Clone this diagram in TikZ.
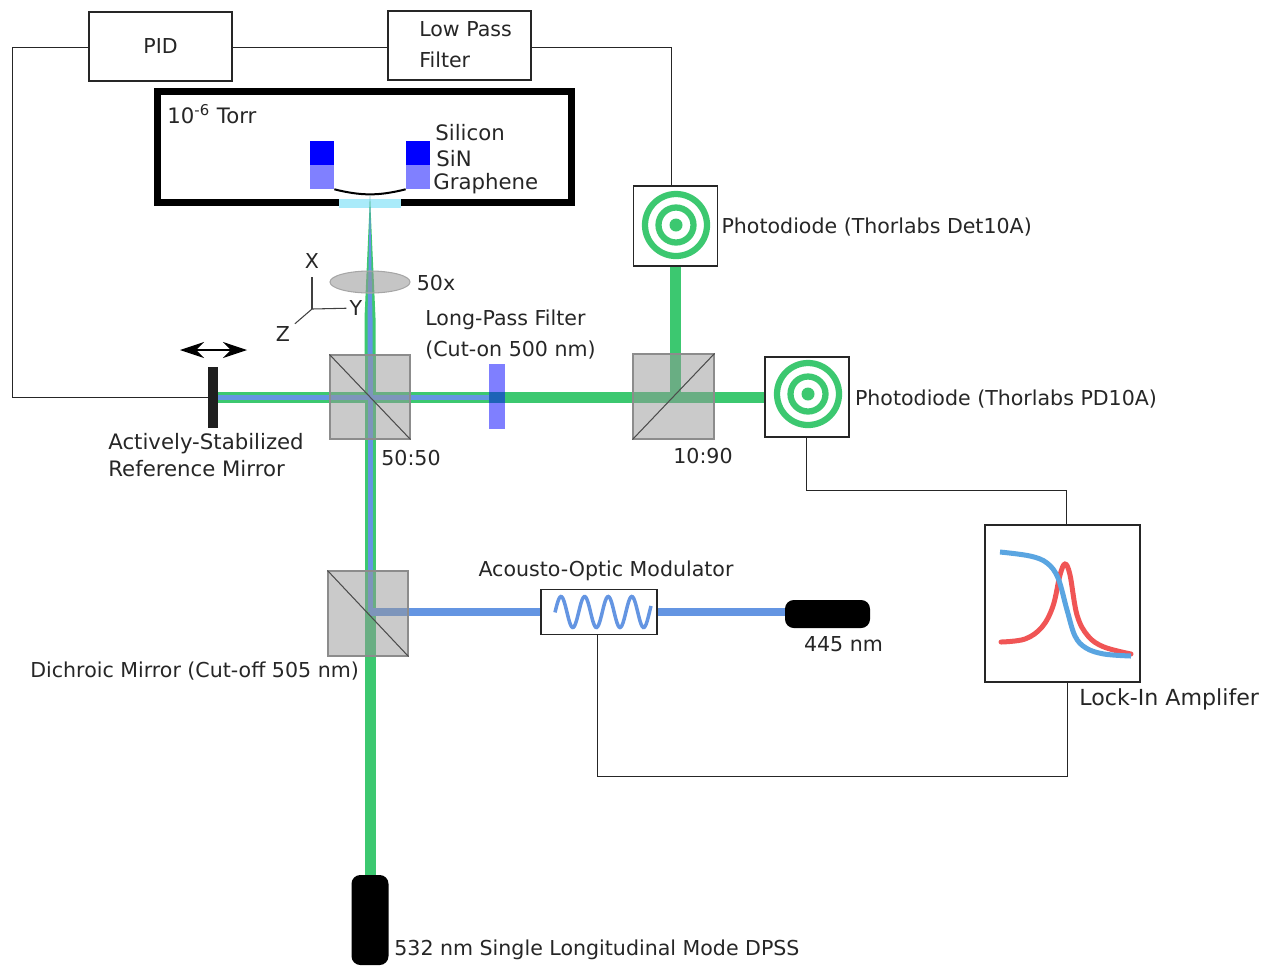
\documentclass[tikz,border=0pt]{standalone}
\usepackage{fontspec}
\setmainfont{DejaVu Sans}
\definecolor{BeamGreen}{RGB}{60,200,112}
\definecolor{BeamBlue}{RGB}{100,149,226}
\definecolor{CubeGray}{RGB}{150,150,150}
\definecolor{SiBlue}{RGB}{0,0,255}
\definecolor{SiNBlue}{RGB}{128,128,255}
\definecolor{WindowBlue}{RGB}{170,235,250}
\definecolor{CurveRed}{RGB}{240,85,85}
\definecolor{CurveBlue}{RGB}{90,165,225}
\usetikzlibrary{
  shapes.geometric,
  arrows.meta, positioning, calc,
  backgrounds
}

\begin{document}
\begin{tikzpicture}[
        x=0.02cm,y=-0.02cm,
        node distance=0.04cm,
        every node/.style={font=\fontsize{11.7}{14.5}\selectfont,text=black!85,inner sep=0pt},
        wide/.style={font=\fontsize{12.1}{14.5}\selectfont},
        box/.style={rectangle,draw=black!85,thick,fill=white,minimum width=2.86cm,minimum height=1.38cm},
        cube/.style={rectangle,draw=black!45,semithick,fill=CubeGray,fill opacity=0.5,minimum width=1.6cm,minimum height=1.68cm},
        pd/.style={rectangle,draw=black!85,thick,fill=white,minimum width=1.68cm,minimum height=1.6cm},
        block/.style={rectangle,minimum width=0.48cm,minimum height=0.47cm},
        laser/.style={rectangle,rounded corners=5pt,fill=black},
        wire/.style={draw=black!85,line width=0.45pt},
        green/.style={draw=BeamGreen,line width=0.22cm},
        blue/.style={draw=BeamBlue,line width=0.1cm},
        ring/.style={draw=BeamGreen,line width=0.125cm}
      ]
        \useasboundingbox (0,0) rectangle (1270,965);

        % controllers
        \node[box] (pid) at (160.5,46.5) {\raisebox{0.04cm}{PID}};
        \node[box,align=left] (lowpass) at (459.5,45.5) {\hspace*{0.24cm}\raisebox{0.04cm}{Low Pass}\\[0.11cm]\hspace*{0.24cm}\raisebox{0.04cm}{Filter}};

        % vacuum chamber
        \node[rectangle,draw=black,line width=0.14cm,minimum width=8.3cm,minimum height=2.22cm] (chamber) at (364.5,147) {};
        \node[anchor=west,wide] (torr) at (167,114) {10\textsuperscript{-6} Torr};
        \node[rectangle,fill=WindowBlue,minimum width=1.24cm,minimum height=0.18cm] (window) at (370,203.5) {};
        \node[block,fill=SiBlue] (siL) at (322,153) {};
        \node[block,fill=SiNBlue,below=0cm of siL] (sinL) {};
        \node[block,fill=SiBlue] (siR) at (418,153) {};
        \node[block,fill=SiNBlue,below=0cm of siR] (sinR) {};
        \draw[black,line width=0.04cm] (sinL.south east) to[bend right=14] (sinR.south west);
        \node[anchor=west,wide] (silicon) at (435,133) {Silicon};
        \node[anchor=west,wide] (sin) at (436,159) {SiN};
        \node[anchor=west,wide] (graphene) at (433,184) {Graphene};

        % focused beams, over the window
        \coordinate (focus) at (370,196);
        \coordinate (beamWide) at (370,318);
        \coordinate (beamTop) at (370,356);
        \fill[BeamGreen] (focus) -- ($(beamWide)+(-5.5,0)$) -- ($(beamTop)+(-5.5,0)$) -- ($(beamTop)+(5.5,0)$) -- ($(beamWide)+(5.5,0)$) -- cycle;
        \fill[BeamBlue] (focus) -- ($(beamWide)+(-2.5,0)$) -- ($(beamTop)+(-2.5,0)$) -- ($(beamTop)+(2.5,0)$) -- ($(beamWide)+(2.5,0)$) -- cycle;

        % optics
        \node[ellipse,draw=black!35,semithick,fill=CubeGray,fill opacity=0.55,minimum width=1.6cm,minimum height=0.44cm] (lens) at (370,282) {};
        \node[right=0.12cm of lens,yshift=-0.02cm] (lenslabel) {50x};
        \node[cube] (bs) at (370,397) {};
        \node[cube,minimum height=1.7cm] (dichroic) at (368,613.5) {};
        \node[cube,minimum width=1.62cm,minimum height=1.7cm] (tap) at (673.5,396.5) {};
        \draw[black!70,semithick] (bs.north west) -- (bs.south east);
        \draw[black!70,semithick] (dichroic.north west) -- (dichroic.south east);
        \draw[black!70,semithick] (tap.south west) -- (tap.north east);
        \node[rectangle,fill=black!88,minimum width=0.2cm,minimum height=1.22cm] (mirror) at (213,397) {};
        \node[rectangle,fill=SiBlue,minimum width=0.32cm,minimum height=1.3cm,fill opacity=0.5] (filter) at (497,396.5) {};
        \node (filterlabel) [align=left,anchor=west] at (425,335) {Long-Pass Filter\\[0.11cm](Cut-on 500 nm)};

        % labels of the optics
        \node[anchor=west] (bslabel) at (381,458) {50:50};
        \node[anchor=west] (taplabel) at (673,456) {10:90};
        \node[align=left,anchor=west,wide] (mirrorlabel) at (108,455.5) {Actively-Stabilized\\[0.03cm]Reference Mirror};
        \node[anchor=west] (dichroiclabel) at (30,671) {Dichroic Mirror (Cut-off 505 nm)};

        % stage motion
        \coordinate (moveL) at (180,350);
        \coordinate (moveR) at (247,350);
        \draw[{Stealth[length=0.48cm,width=0.32cm]}-{Stealth[length=0.48cm,width=0.32cm]},black,semithick] (moveL)--(moveR);

        % axes
        \coordinate (axO) at (312,309);
        \node (axX) at (312,261) {X};
        \node (axY) at (356,308) {Y};
        \node (axZ) at (283,334) {Z};
        \draw[black!75,semithick,shorten <=0cm,shorten >=0.16cm] (axO)--(axX);
        \draw[black!75,semithick,shorten >=0.06cm] (axO)--(axY);
        \draw[black!75,semithick,shorten >=0.12cm] (axO)--(axZ);

        % detectors
        \node[pd] (pdA) at (675.5,226) {};
        \node[pd] (pdB) at (807,397) {};
        \foreach \pdn/\rx/\ry in {pdA/676/225,pdB/808/394}{
          \draw[ring] (\rx,\ry) circle (31);
          \draw[ring] (\rx,\ry) circle (17.5);
          \fill[BeamGreen] (\rx,\ry) circle (6.5);
        }
        \node[right=0.06cm of pdA,yshift=-0.03cm] (pdAlabel) {Photodiode (Thorlabs Det10A)};
        \node[right=0.1cm of pdB,yshift=-0.04cm] (pdBlabel) {Photodiode (Thorlabs PD10A)};

        % modulator, lasers
        \node[rectangle,draw=black!85,thick,fill=white,minimum width=2.32cm,minimum height=0.9cm] (aom) at (599,612) {};
        \draw[BeamBlue,line width=0.07cm] plot[domain=555:651,samples=100,smooth] ({\x},{612-15.5*cos((\x-561)/23.6*360)});
        \node[above=0.16cm of aom,xshift=0.14cm] (aomlabel) {Acousto-Optic Modulator};
        \node[laser,minimum width=1.7cm,minimum height=0.56cm] (blue445) at (827.5,614) {};
        \node[below=0.16cm of blue445,xshift=0.32cm] (bluelabel) {445 nm};
        \node[laser,minimum width=0.74cm,minimum height=1.8cm] (green532) at (370,920) {};
        \node[anchor=west] (greenlabel) at (394,950) {532 nm Single Longitudinal Mode DPSS};

        % lock-in
        \node[rectangle,draw=black!85,thick,fill=white,minimum width=3.1cm,minimum height=3.14cm] (lockin) at (1062.5,603.5) {};
        \draw[CurveRed,line width=0.1cm,line cap=round] plot[smooth,tension=0.6] coordinates {(1001,642) (1025,639) (1042,627) (1053,606) (1060,575) (1065,564) (1070,575) (1077,615) (1088,636) (1104,647) (1131,654)};
        \draw[CurveBlue,line width=0.1cm] plot[smooth,tension=0.6] coordinates {(1000,552) (1030,556) (1047,563) (1058,578) (1067,610) (1075,636) (1086,648) (1104,654) (1131,656)};
        \node[anchor=west,font=\fontsize{12.6}{14.5}\selectfont] (lockinlabel) at (1079,699) {Lock-In Amplifer};

        % wires
        \coordinate (wireTL) at (12,47);
        \coordinate (wireBL) at (12,397);
        \draw[wire] (pid.west |- wireTL)--(wireTL)--(wireBL)--(mirror.west |- wireBL);
        \draw[wire] (pid.east |- wireTL)--(lowpass.west |- wireTL);
        \coordinate (wireTR) at (671,47);
        \draw[wire] (lowpass.east |- wireTR)--(wireTR)--(wireTR |- pdA.north);
        \coordinate (wireA) at (806,490);
        \coordinate (wireB) at (1066,490);
        \draw[wire] (wireA |- pdB.south)--(wireA)--(wireB)--(wireB |- lockin.north);
        \coordinate (wireC) at (1067,776);
        \coordinate (wireD) at (597,776);
        \draw[wire] (wireC |- lockin.south)--(wireC)--(wireD)--(wireD |- aom.south);

        % beams go under everything
        \begin{scope}[on background layer]
          \draw[green] (green532.north)--(beamTop);
          \draw[green] (mirror.east)--(mirror.east -| pdB.west);
          \draw[green] (pdA.south)--(pdA.south |- mirror.east);
          \draw[blue] (bs.center |- aom.center)--(beamTop);
          \draw[blue] (mirror.east)--(mirror.east -| filter.west);
          \draw[BeamBlue,line width=0.16cm] (bs.center |- aom.center)--(aom.west);
          \draw[BeamBlue,line width=0.16cm] (aom.east)--(aom.east -| blue445.west);
        \end{scope}
      \end{tikzpicture}
\end{document}
